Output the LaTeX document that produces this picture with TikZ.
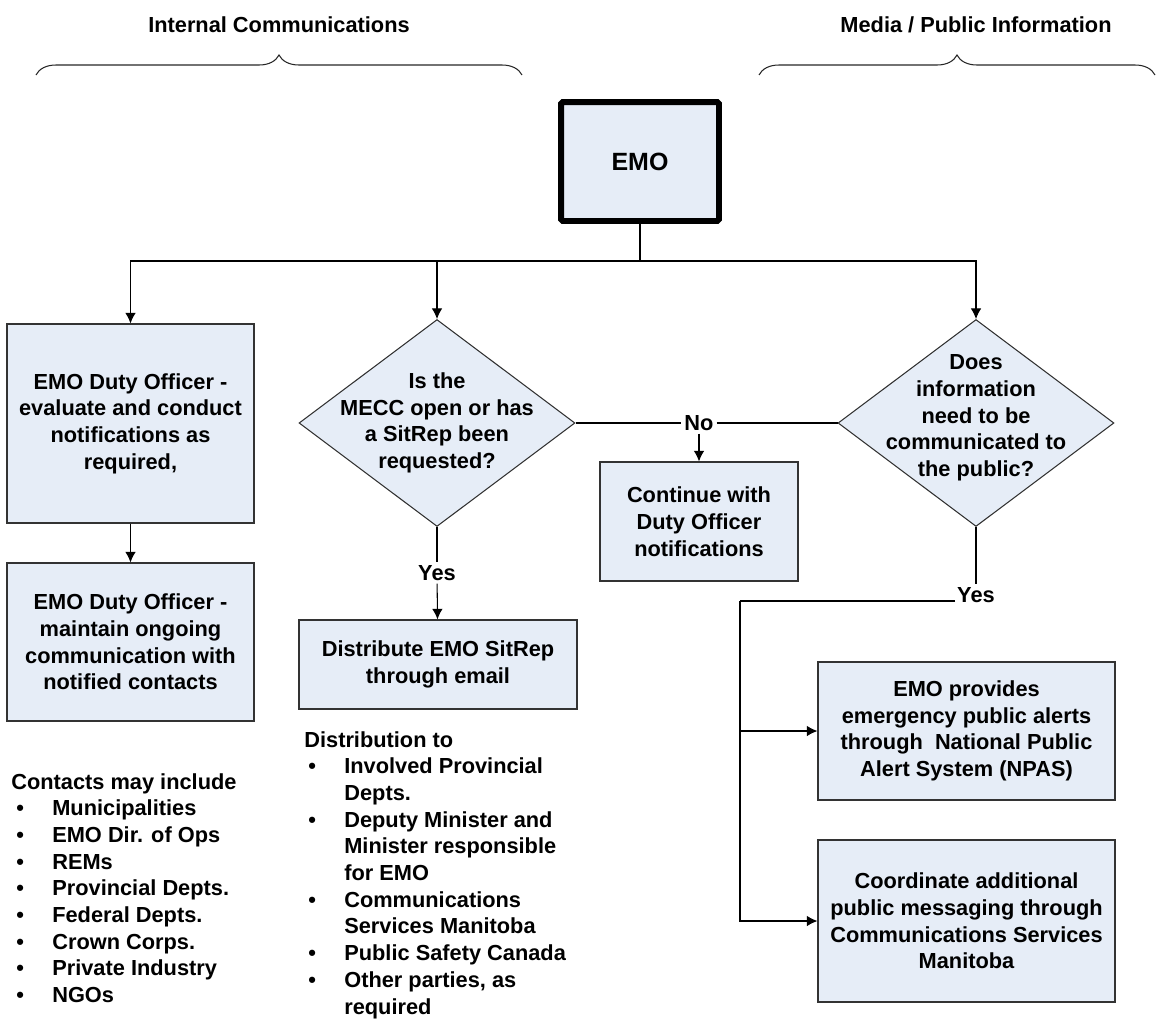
\documentclass[tikz,border=0pt]{standalone}
\usepackage{fontspec}
\setmainfont{Liberation Sans}
\usetikzlibrary{arrows.meta,shapes.geometric,decorations.pathreplacing}
\definecolor{boxblue}{RGB}{230,237,247}

\begin{document}
\begin{tikzpicture}[x=0.02cm,y=-0.02cm,font=\fontsize{12.4}{15.2}\selectfont\bfseries,
	>={Latex[length=6pt,width=6pt]},
	box/.style={draw=black!80,line width=0.7pt,fill=boxblue,align=center},
	decision/.style={diamond,draw=black!80,line width=0.6pt,fill=boxblue,inner sep=0pt,minimum width=5.52cm,minimum height=4.14cm},
	lbl/.style={inner sep=1.5pt},
	bracket/.style={decorate,decoration={brace,amplitude=0.4cm},draw=black!85,line width=0.6pt}]
\useasboundingbox (0,0) rectangle (1160,1025);
% headings
\node (h1) at (279,25) {Internal Communications};
\node (h2) at (976,25) {Media / Public Information};
\draw[bracket] (36,75)--(522,75);
\draw[bracket] (759,75)--(1155,75);
% boxes
\node[box,draw=black,line width=3.4pt,rounded corners=1pt,minimum width=3.16cm,minimum height=2.38cm,font=\fontsize{14.2}{17}\selectfont\bfseries] (0) at (640,161.5) {EMO};
\node[box,minimum width=4.94cm,minimum height=3.98cm] (1) at (130.5,423.5) {EMO Duty Officer -\\evaluate and conduct\\notifications as\\required,};
\node[decision,label={[align=center]center:{Is the\\MECC open or has\\a SitRep been\\requested?}}] (2) at (437,423) {};
\node[decision,label={[align=center,yshift=0.1cm]center:{Does\\information\\need to be\\communicated to\\the public?}}] (3) at (976,423) {};
\node[box,minimum width=4.94cm,minimum height=3.16cm] (4) at (130.5,642) {EMO Duty Officer -\\maintain ongoing\\communication with\\notified contacts};
\node[box,minimum width=5.56cm,minimum height=1.78cm] (5) at (438,664.5) {Distribute EMO SitRep\\through email};
\node[box,minimum width=3.96cm,minimum height=2.38cm] (6) at (699,521.5) {Continue with\\Duty Officer\\notifications};
\node[box,minimum width=5.94cm,minimum height=2.76cm] (7) at (966.5,731) {EMO provides\\emergency public alerts\\through\ \ National Public\\Alert System (NPAS)};
\node[box,minimum width=5.94cm,minimum height=3.24cm] (8) at (966.5,921) {Coordinate additional\\public messaging through\\Communications Services\\Manitoba};
% yes / no
\node[lbl] (9) at (699,423) {No};
\node[lbl] (10) at (437,573) {Yes};
\node[lbl] (11) at (976,595) {Yes};
\coordinate (12) at (740,601);
\coordinate (13) at (955,601);
\coordinate (14) at (640,261);
% lists
\node[anchor=north west,inner sep=0pt] (15) at (11,770) {\begin{tabular}{@{}p{0.82cm}@{}l@{}}
\multicolumn{2}{@{}l@{}}{Contacts may include}\\
\hspace*{0.1cm}\textbullet & Municipalities\\
\hspace*{0.1cm}\textbullet & EMO Dir. of Ops\\
\hspace*{0.1cm}\textbullet & REMs\\
\hspace*{0.1cm}\textbullet & Provincial Depts.\\
\hspace*{0.1cm}\textbullet & Federal Depts.\\
\hspace*{0.1cm}\textbullet & Crown Corps.\\
\hspace*{0.1cm}\textbullet & Private Industry\\
\hspace*{0.1cm}\textbullet & NGOs
\end{tabular}};
\node[anchor=north west,inner sep=0pt] (16) at (304,728) {\begin{tabular}{@{}p{0.8cm}@{}l@{}}
\multicolumn{2}{@{}l@{}}{Distribution to}\\
\hspace*{0.08cm}\textbullet & Involved Provincial\\
 & Depts.\\
\hspace*{0.08cm}\textbullet & Deputy Minister and\\
 & Minister responsible\\
 & for EMO\\
\hspace*{0.08cm}\textbullet & Communications\\
 & Services Manitoba\\
\hspace*{0.08cm}\textbullet & Public Safety Canada\\
\hspace*{0.08cm}\textbullet & Other parties, as\\
 & required
\end{tabular}};
% connectors
\draw [line width=0.7pt](0)--(14);
\draw [->,line width=0.6pt](14)-|(1);
\draw [->,line width=0.6pt](14)-|(2);
\draw [->,line width=0.6pt](14)-|(3);
\draw [->,line width=0.6pt](1)--(4);
\draw [line width=0.6pt](2)--(9);
\draw [line width=0.6pt](9)--(3);
\draw [->,line width=0.6pt](9)--(6);
\draw [line width=0.6pt](2)--(10);
\draw [->,line width=0.6pt](10)--(5);
\draw [line width=0.6pt](3)--(11);
\draw [line width=0.6pt](13)--(12);
\draw [->,line width=0.6pt](12)|-(7);
\draw [->,line width=0.6pt](12)|-(8);
\end{tikzpicture}
\end{document}
